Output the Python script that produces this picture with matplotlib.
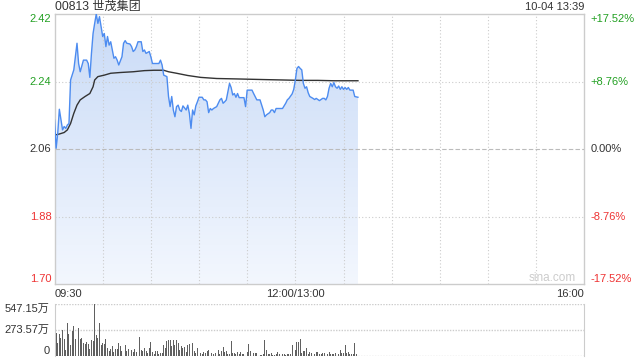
import matplotlib
matplotlib.use('Agg')
import matplotlib.pyplot as plt
import numpy as np
import matplotlib.transforms as mtransforms
from matplotlib.colors import LinearSegmentedColormap

plt.rcParams['font.family'] = ['Liberation Sans', 'Noto Sans CJK SC', 'DejaVu Sans']

# ---- datos ----
titulo = '00813 世茂集团'
fecha = '10-04 13:39'
cierre_prev = 2.06
precio_ticks = [2.42, 2.24, 2.06, 1.88, 1.70]
pct_labels = ['+17.52%', '+8.76%', '0.00%', '-8.76%', '-17.52%']
hora_ticks = [0, 150, 330]
hora_labels = ['09:30', '12:00/13:00', '16:00']
vol_ticks = [0, 273.57, 547.15]
vol_labels = ['0', '273.57万', '547.15万']

# minutos desde 09:30 (12:00 y 13:00 comparten el minuto 150)
precio_min = [0, 1, 2, 3, 5, 6, 7, 8, 9, 10, 12, 13, 14, 15, 16, 18, 20, 21, 22, 23,
              24, 25, 26, 27, 28, 29, 30, 31, 32, 33, 34, 35, 36, 37, 38, 39, 40, 42, 43, 44,
              45, 47, 48, 49, 50, 51, 52, 54, 55, 56, 57, 59, 60, 61, 63, 65, 66, 67, 68, 70,
              71, 72, 73, 74, 75, 76, 77, 78, 79, 80, 82, 83, 84, 85, 86, 87, 88, 89, 90, 92,
              93, 94, 95, 96, 97, 98, 99, 101, 102, 103, 104, 105, 106, 107, 109, 110, 111, 112, 113, 114,
              115, 118, 119, 120, 123, 124, 126, 128, 129, 130, 131, 132, 134, 135, 136, 137, 138, 142, 143, 144,
              145, 146, 148, 149, 150, 151, 152, 153, 154, 155, 156, 157, 158, 159, 161, 162, 163, 164, 165, 167,
              168, 169, 170, 171, 172, 173, 174, 175, 176, 177, 178, 179, 180, 181, 182, 183, 184, 186, 187, 189]
precio = [2.137, 2.062, 2.102, 2.166, 2.111, 2.120, 2.115, 2.124, 2.128, 2.244, 2.271, 2.306, 2.342, 2.288, 2.266, 2.297, 2.297, 2.288, 2.251, 2.315,
          2.368, 2.395, 2.420, 2.395, 2.413, 2.386, 2.360, 2.368, 2.333, 2.360, 2.337, 2.346, 2.324, 2.302, 2.306, 2.297, 2.284, 2.306, 2.342, 2.349,
          2.342, 2.340, 2.333, 2.320, 2.324, 2.333, 2.346, 2.346, 2.320, 2.324, 2.315, 2.320, 2.306, 2.288, 2.288, 2.288, 2.297, 2.284, 2.257, 2.253,
          2.200, 2.173, 2.200, 2.164, 2.146, 2.173, 2.177, 2.164, 2.160, 2.175, 2.164, 2.177, 2.155, 2.115, 2.164, 2.151, 2.175, 2.186, 2.198, 2.198,
          2.191, 2.191, 2.186, 2.157, 2.168, 2.164, 2.168, 2.173, 2.182, 2.191, 2.195, 2.182, 2.186, 2.191, 2.235, 2.224, 2.204, 2.208, 2.198, 2.208,
          2.197, 2.197, 2.173, 2.217, 2.217, 2.208, 2.191, 2.191, 2.177, 2.164, 2.146, 2.151, 2.157, 2.164, 2.164, 2.157, 2.168, 2.168, 2.175, 2.182,
          2.191, 2.195, 2.207, 2.219, 2.244, 2.275, 2.280, 2.275, 2.271, 2.235, 2.222, 2.226, 2.210, 2.200, 2.195, 2.192, 2.195, 2.192, 2.189, 2.195,
          2.195, 2.191, 2.200, 2.222, 2.235, 2.226, 2.237, 2.226, 2.222, 2.228, 2.219, 2.226, 2.219, 2.224, 2.219, 2.224, 2.217, 2.217, 2.200, 2.198]

# precio medio
media_min = [0, 3, 6, 8, 10, 12, 14, 16, 19, 22, 24, 25, 27, 31, 35, 41, 49, 56, 62, 68,
             71, 76, 83, 91, 101, 112, 122, 132, 143, 153, 164, 174, 189]
media = [2.097, 2.100, 2.104, 2.111, 2.128, 2.155, 2.177, 2.191, 2.200, 2.208, 2.226, 2.244, 2.253, 2.257, 2.262, 2.264, 2.266, 2.269, 2.270, 2.270,
         2.266, 2.262, 2.256, 2.251, 2.248, 2.247, 2.246, 2.245, 2.244, 2.243, 2.243, 2.242, 2.242]

# volumen por minuto (万股)
volumen = [350, 241, 133, 230, 187, 277, 180, 61, 350, 230, 115, 259, 313, 180, 277, 295, 180, 187, 133, 122,
           144, 122, 72, 166, 151, 547, 223, 187, 350, 115, 133, 122, 176, 79, 43, 72, 97, 36, 72, 72,
           133, 104, 43, 0, 115, 43, 72, 36, 61, 36, 72, 36, 72, 194, 61, 43, 79, 43, 25, 79,
           144, 36, 14, 43, 50, 14, 25, 25, 115, 79, 158, 169, 169, 97, 169, 115, 169, 133, 61, 97,
           79, 86, 36, 115, 122, 97, 133, 43, 25, 79, 79, 25, 14, 36, 25, 43, 61, 0, 25, 14,
           25, 0, 61, 14, 50, 86, 36, 50, 14, 14, 158, 25, 25, 14, 36, 14, 36, 14, 14, 0,
           36, 122, 43, 25, 25, 25, 25, 0, 7, 7, 14, 169, 58, 14, 14, 25, 7, 7, 14, 36,
           14, 0, 14, 14, 7, 14, 14, 14, 115, 0, 61, 144, 144, 176, 25, 43, 50, 79, 14, 36,
           25, 25, 14, 36, 36, 14, 14, 25, 25, 0, 14, 36, 14, 14, 14, 25, 0, 14, 61, 25,
           25, 115, 25, 36, 14, 14, 14, 133, 14]
vol_min = np.arange(len(volumen))

verde = '#22a022'
rojo = '#ee3333'
gris = '#333333'
borde = '#cccccc'

fig = plt.figure(figsize=(6.4, 3.6), dpi=100)
ax = fig.add_axes([0.0852, 0.2111, 0.8278, 0.75])
axv = fig.add_axes([0.0852, 0.0125, 0.8278, 0.1422])

# ---- precio ----
ax.set_xlim(0, 330)
ax.set_ylim(1.70, 2.42)
for s in ax.spines.values():
    s.set_color(borde)
    s.set_linewidth(1)
ax.set_xticks([])
ax.set_yticks([])

for m in range(30, 330, 30):
    ax.axvline(m, color=borde, lw=0.8, ls=(0, (1, 2)), zorder=3)
for p in [2.24, 1.88]:
    ax.axhline(p, color=borde, lw=0.8, ls=(0, (1, 2)), zorder=3)
ax.axhline(cierre_prev, color='#bbbbbb', lw=0.8, ls=(0, (4, 2)), zorder=3)

# relleno degradado
relleno = ax.fill_between(precio_min, precio, 1.70, color='none', lw=0)
cmap = LinearSegmentedColormap.from_list('azul', ['#f3f7fe', '#c9dbf7'])
grad = np.linspace(0, 1, 256).reshape(-1, 1)
img = ax.imshow(grad, extent=[0, 330, 1.70, 2.42], origin='lower', aspect='auto',
                cmap=cmap, zorder=2)
img.set_clip_path(relleno.get_paths()[0], transform=ax.transData)

ax.plot(precio_min, precio, color='#4d8cf0', lw=1, zorder=5)
ax.plot(media_min, media, color=gris, lw=1, zorder=4)

# etiquetas eje y
tr_y = mtransforms.blended_transform_factory(ax.transAxes, ax.transData)
colores = [verde, verde, gris, rojo, rojo]
alin = ['top', 'center', 'center', 'center', 'bottom']
for p, pct, c, va in zip(precio_ticks, pct_labels, colores, alin):
    ax.text(-0.006, p, f'{p:.2f}', transform=tr_y, ha='right', va=va, color=c, fontsize=8)
    ax.text(1.011, p, pct, transform=tr_y, ha='left', va=va, color=c, fontsize=8)

tr_x = mtransforms.blended_transform_factory(ax.transData, ax.transAxes)
for m, lab, ha in zip(hora_ticks, hora_labels, ['left', 'center', 'right']):
    ax.text(m, -0.036, lab, transform=tr_x, ha=ha, va='center', color=gris, fontsize=8)

fig.text(0.0859, 0.981, titulo, ha='left', va='center', fontsize=8.7, color=gris)
fig.text(0.9125, 0.981, fecha, ha='right', va='center', fontsize=8, color=gris)
fig.text(0.8625, 0.228, 'sina.com', ha='center', va='center', fontsize=8.5, color='#cccccc')

# ---- volumen ----
axv.bar(vol_min, volumen, width=0.6, color='#606060', align='center', zorder=3)
axv.set_xlim(0, 330)
axv.set_ylim(0, 547.15)
axv.set_xticks([])
axv.set_yticks([])
for k in ['top', 'bottom']:
    axv.spines[k].set_visible(False)
for k in ['left', 'right']:
    axv.spines[k].set_color(borde)
for v in vol_ticks:
    axv.axhline(v, color=borde, lw=1, ls=(0, (1, 1)), zorder=1)
tr_v = mtransforms.blended_transform_factory(axv.transAxes, axv.transData)
for v, lab, va in zip(vol_ticks, vol_labels, ['bottom', 'center', 'top']):
    axv.text(-0.009, v, lab, transform=tr_v, ha='right', va=va, color=gris, fontsize=8)

fig.savefig('out.png', dpi=100)
